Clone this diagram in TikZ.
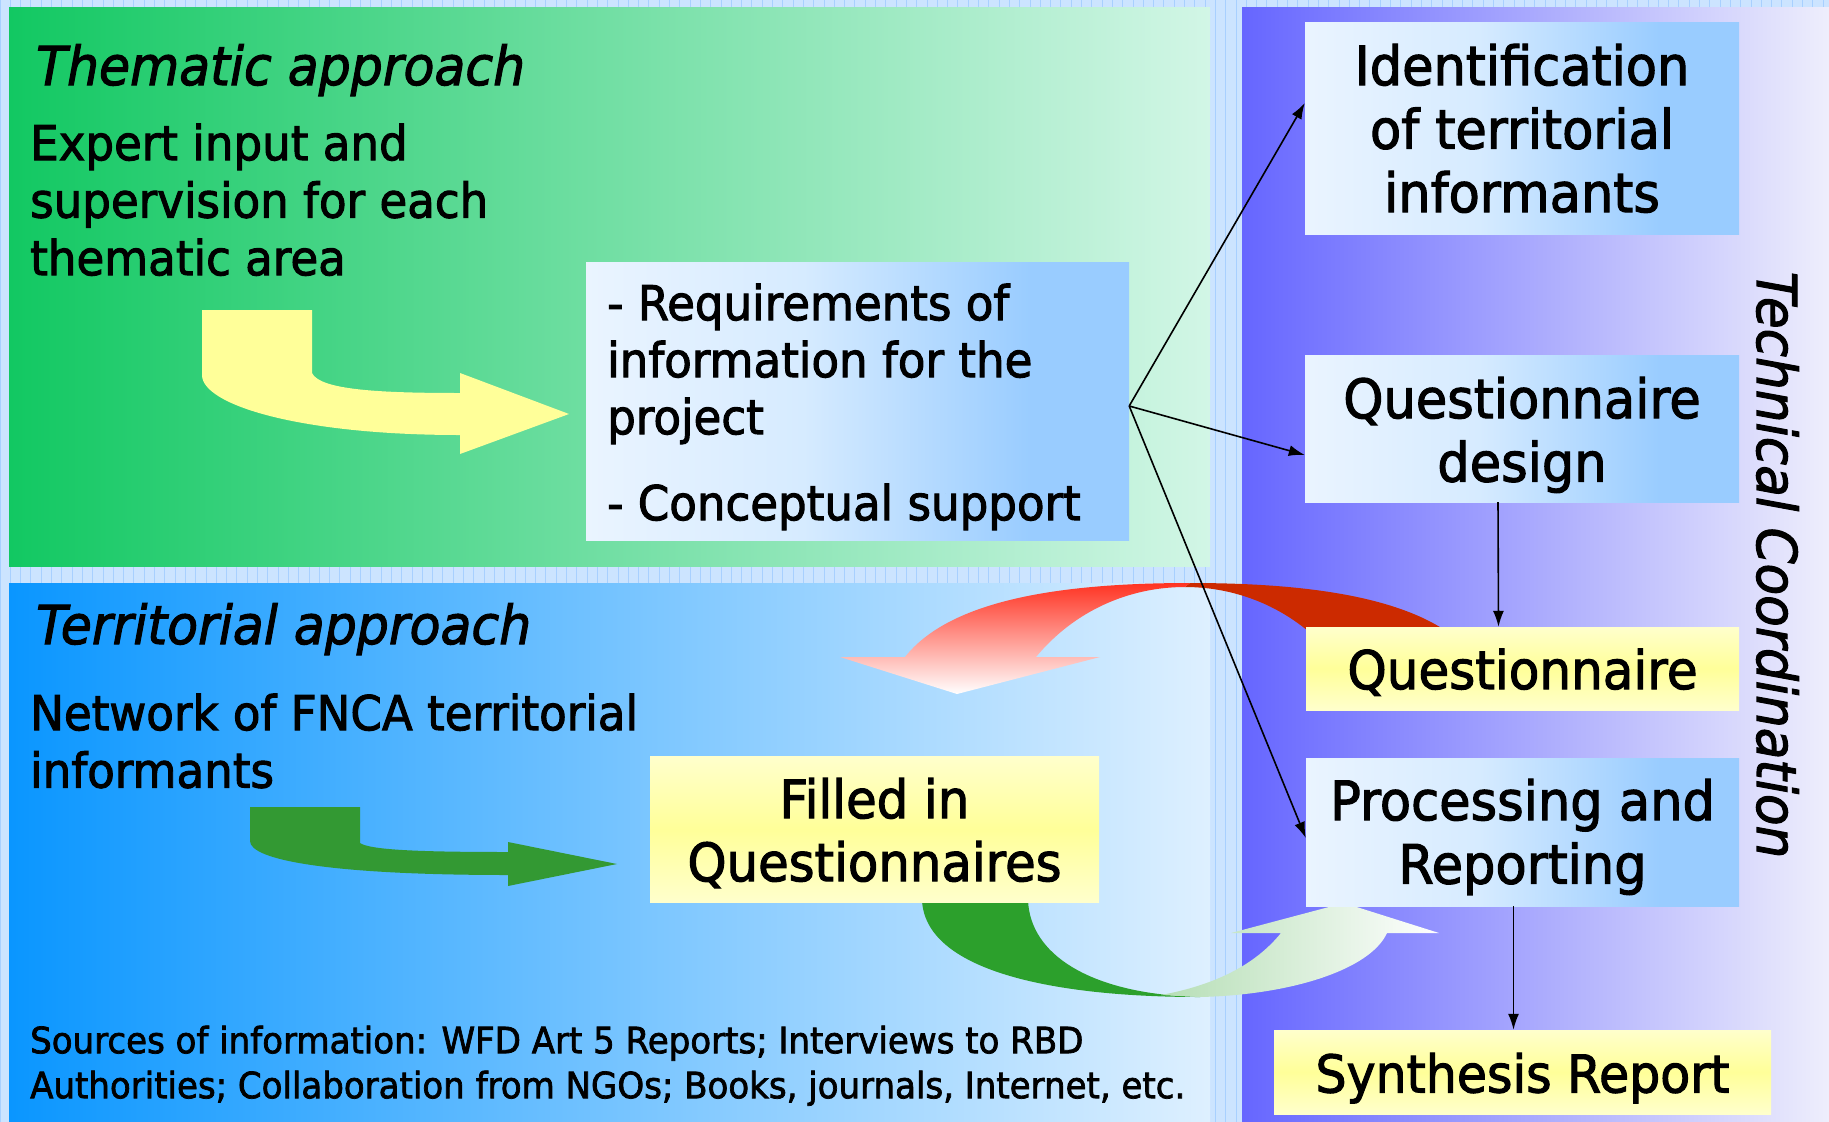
\documentclass[tikz,border=0pt]{standalone}
\usepackage{fontspec}
\setmainfont{DejaVu Sans}[FakeStretch=0.94,FakeBold=2]
\usetikzlibrary{arrows.meta}
\definecolor{bgc}{HTML}{CCE4FF}
\definecolor{gridc}{HTML}{A8D0FF}
\definecolor{grL}{HTML}{12C862}
\definecolor{grR}{HTML}{D2F6E6}
\definecolor{blL}{HTML}{0A96FF}
\definecolor{blR}{HTML}{DEF0FF}
\definecolor{puL}{HTML}{6666FF}
\definecolor{puR}{HTML}{EEEEFC}
\definecolor{bbL}{HTML}{EAF4FF}
\definecolor{bbM}{HTML}{D6EBFF}
\definecolor{bbR}{HTML}{99CCFF}
\definecolor{ylP}{HTML}{FFFFCC}
\definecolor{ylS}{HTML}{FFFF99}
\definecolor{yarrowc}{HTML}{FFFF99}
\definecolor{garrowc}{HTML}{339933}
\definecolor{redT}{HTML}{FF3322}
\definecolor{redB}{HTML}{CC2A00}
\definecolor{gdark}{HTML}{2CA02C}
\definecolor{glL}{HTML}{B5DEB5}
\pgfdeclarehorizontalshading{bluegrad}{100bp}{color(0bp)=(bbL); color(25bp)=(bbL); color(45bp)=(bbM); color(66bp)=(bbR); color(100bp)=(bbR)}
\pgfdeclareverticalshading{yelgrad}{100bp}{color(0bp)=(ylP); color(25bp)=(ylP); color(50bp)=(ylS); color(75bp)=(ylP); color(100bp)=(ylP)}
\newcommand{\FntTitle}{\fontsize{53.7}{60}\selectfont\itshape}
\newcommand{\FntTech}{\fontsize{54.9}{60}\selectfont\itshape}
\newcommand{\FntBody}{\fontsize{48}{57.5}\selectfont}
\newcommand{\FntReq}{\fontsize{48}{57}\selectfont}
\newcommand{\FntBx}{\fontsize{54.3}{63.5}\selectfont}
\newcommand{\FntFil}{\fontsize{52.9}{63}\selectfont}
\newcommand{\FntQ}{\fontsize{53.2}{63}\selectfont}
\newcommand{\FntSyn}{\fontsize{52.1}{63}\selectfont}
\newcommand{\FntSmall}{\fontsize{36.2}{45}\selectfont}
\begin{document}
\begin{tikzpicture}[x=1pt,y=-1pt,
  bluebox/.style={rectangle, shade, shading=bluegrad, inner sep=0pt},
  yellowbox/.style={rectangle, shade, shading=yelgrad, inner sep=0pt, text height=41pt, text depth=0pt},
  boxtext/.style={inner sep=0pt, align=center, anchor=north},
  freetext/.style={inner sep=0pt, align=left},
  conn/.style={line width=1.6pt, -{Latex[length=16pt,width=11pt]}}]
\useasboundingbox (0,0) rectangle (1829,1122);
% background with grid
\fill[bgc] (0,0) rectangle (1829,1122);
\draw[gridc, line width=1pt, step=10.3] (0,0) grid (1829,1122);
% panels
\shade[left color=grL, right color=grR] (9,7) rectangle (1210,566);
\shade[left color=blL, right color=blR] (9,583) rectangle (1210,1122);
\shade[left color=puL, right color=puR] (1242,7) rectangle (1829,1122);
% bent arrows
\fill[yarrowc] (202,310) -- (312,310) -- (312,373) .. controls (320,390) and (380,393) .. (460,393) -- (460,373) -- (569,414) -- (460,454) -- (460,435) .. controls (300,435) and (202,405) .. (202,375) -- cycle;
\fill[garrowc] (250,807) -- (360,807) -- (360,843) .. controls (370,850) and (420,852) .. (508,852) -- (508,842) -- (617,864) -- (508,886) -- (508,875) .. controls (330,875) and (250,860) .. (250,841) -- cycle;
% red curved arrow
\fill[redB] (1190,583) .. controls (1320,583) and (1430,600) .. (1475,657) -- (1334,657) .. controls (1295,610) and (1240,587) .. (1185,587) -- cycle;
\shade[top color=redT, bottom color=white] (905,657) .. controls (950,600) and (1060,583) .. (1190,583) -- (1185,587) .. controls (1130,587) and (1075,610) .. (1036,657) -- (1100,657) -- (957,694) -- (840,657) -- cycle;
% green curved arrow
\fill[gdark] (922,900) .. controls (925,970) and (1050,997) .. (1200,997) -- (1180,996) .. controls (1090,990) and (1030,955) .. (1028,900) -- cycle;
\shade[left color=glL, right color=white] (1161,995) -- (1200,997) .. controls (1290,995) and (1370,970) .. (1387,933) -- (1439,933) -- (1344,903) -- (1231,933) -- (1281,933) .. controls (1255,965) and (1215,985) .. (1161,995) -- cycle;
% boxes
\node[bluebox, minimum width=543pt, minimum height=278pt] (req) at (857.5,401) {};
\node[freetext, anchor=north west, font=\FntReq] (reqtx) at (607,283.5) {- Requirements of\\information for the\\project\\[29pt]- Conceptual support};
\node[bluebox, minimum width=434pt, minimum height=212pt] (ident) at (1522,128) {};
\node[boxtext, font=\FntBx] (identtx) at (1522,43.7) {Identification\\of territorial\\informants};
\node[bluebox, minimum width=434pt, minimum height=147pt] (qdesign) at (1522,428.5) {};
\node[boxtext, font=\FntBx] (qdesigntx) at (1522,376.7) {Questionnaire\\design};
\node[yellowbox, minimum width=433pt, minimum height=83pt, font=\FntQ] (quest) at (1522.5,668.5) {Questionnaire};
\node[bluebox, minimum width=433pt, minimum height=148pt] (proc) at (1522.5,832) {};
\node[boxtext, font=\FntBx] (proctx) at (1522.5,778.7) {Processing and\\Reporting};
\node[yellowbox, minimum width=497pt, minimum height=84pt, font=\FntSyn] (synth) at (1522.5,1072) {Synthesis Report};
\node[yellowbox, minimum width=449pt, minimum height=146pt, text height=, text depth=] (filled) at (874.5,829) {};
\node[boxtext, font=\FntFil] (filledtx) at (874.5,777.8) {Filled in\\Questionnaires};
% free texts
\node[freetext, anchor=base west, font=\FntTitle] (thtitle) at (36,85) {Thematic approach};
\node[freetext, anchor=north west, font=\FntBody] (thtext) at (30,123.5) {Expert input and\\supervision for each\\thematic area};
\node[freetext, anchor=base west, font=\FntTitle] (tetitle) at (36,644) {Territorial approach};
\node[freetext, anchor=north west, font=\FntBody] (tetext) at (30,693.5) {Network of FNCA territorial\\informants};
\node[freetext, anchor=north west, font=\FntSmall] (sources) at (30,1025.5) {Sources of information: WFD Art 5 Reports; Interviews to RBD\\Authorities; Collaboration from NGOs; Books, journals, Internet, etc.};
\node[inner sep=0pt, rotate=-90, anchor=base, font=\FntTech] (tech) at (1757,565) {Technical Coordination};
% connectors
\coordinate (fan) at ([yshift=-5pt]req.east);
\draw[conn] (fan) -- ([yshift=25pt]ident.west);
\draw[conn] (fan) -- ([yshift=-26.5pt]qdesign.west);
\draw[conn] (fan) -- ([yshift=-6pt]proc.west);
\draw[conn] ([xshift=-24pt]qdesign.south) -- ([xshift=-24pt]quest.north);
\draw[conn] ([xshift=-9pt]proc.south) -- ([xshift=-9pt]synth.north);
\end{tikzpicture}
\end{document}
